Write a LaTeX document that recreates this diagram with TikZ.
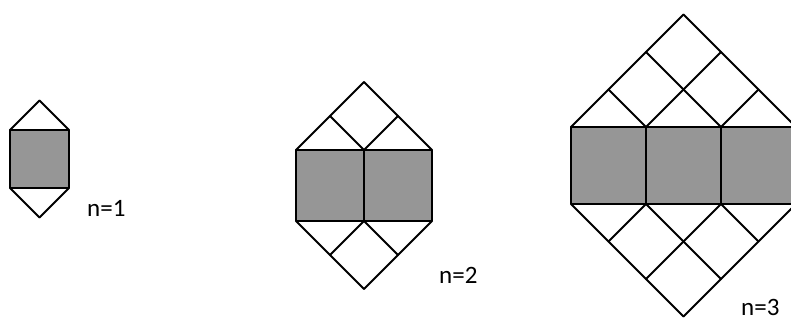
\documentclass[tikz,border=0pt]{standalone}
\usepackage{fontspec}
\setmainfont{Carlito}
\definecolor{tile}{RGB}{150,150,150}
\begin{document}
\begin{tikzpicture}[x=1pt,y=-1pt,
  edge/.style={line width=1.8pt, line cap=round, line join=round},
  lbl/.style={anchor=base west, inner sep=0pt, font=\fontsize{25}{28}\selectfont}]
\useasboundingbox (0,0) rectangle (791,320);
\clip (0,0) rectangle (791,320);
\foreach \xo/\sd/\yt/\yb/\nn in {10/59/130/188/1, 296/68/150/221/2, 571/75/127/204/3} {
  \pgfmathtruncatemacro\nm{\nn-1}
  \foreach \i in {0,...,\nm} {
    \filldraw[edge, fill=tile] ({\xo+\i*\sd},\yt) rectangle ({\xo+(\i+1)*\sd},\yb);
  }
  \foreach \i in {0,...,\nn} {
    \pgfmathsetmacro\tR{(\nn-\i)*\sd/2}
    \pgfmathsetmacro\tL{\i*\sd/2}
    \pgfmathsetmacro\xv{\xo+\i*\sd}
    \draw[edge] (\xv,\yt) -- ++(\tR,-\tR) (\xv,\yt) -- ++(-\tL,-\tL);
    \draw[edge] (\xv,\yb) -- ++(\tR,\tR) (\xv,\yb) -- ++(-\tL,\tL);
  }
}
\node[lbl] (n1) at (87,216) {n=1};
\node[lbl] (n2) at (439,283) {n=2};
\node[lbl] (n3) at (741,315) {n=3};
\end{tikzpicture}
\end{document}
